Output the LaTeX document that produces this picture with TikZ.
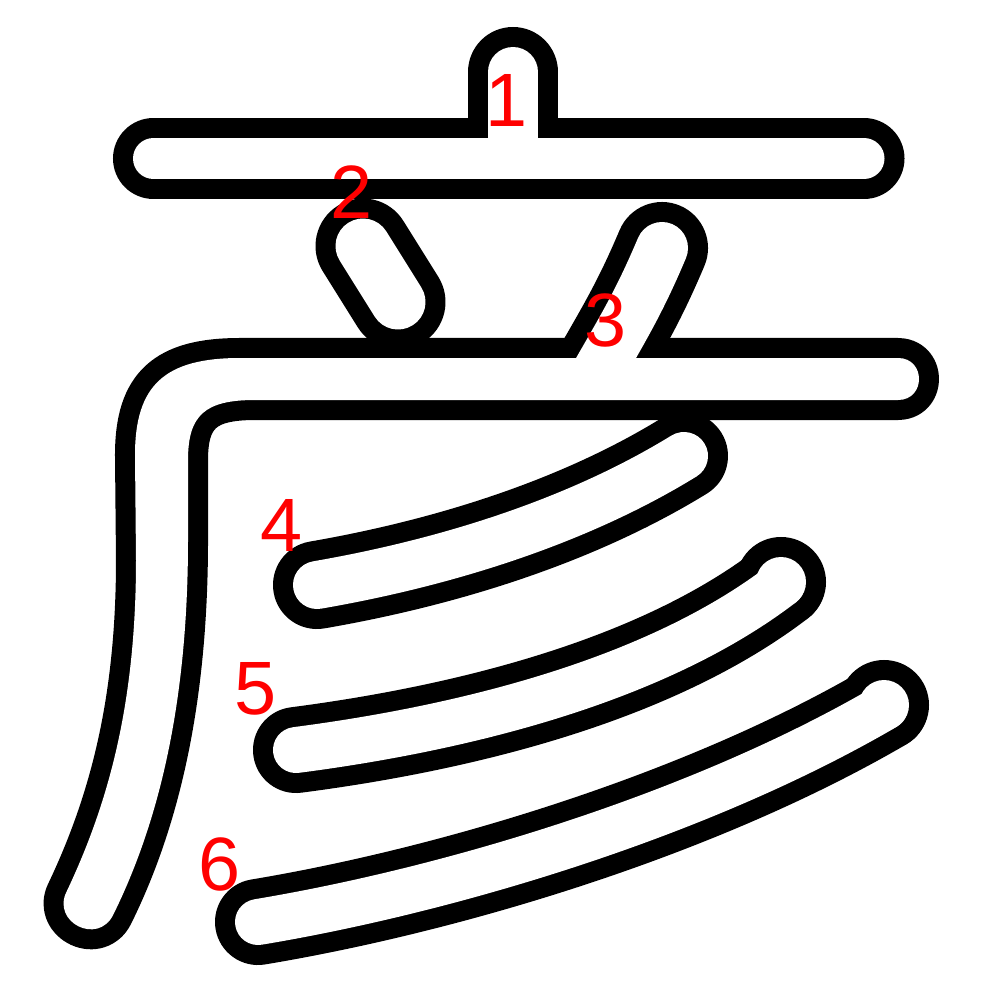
\documentclass[tikz,border=0pt]{standalone}
\usepackage{fontspec}
\setmainfont{Liberation Sans}
\pgfdeclarelayer{inner}
\pgfdeclarelayer{labels}
\pgfsetlayers{main,inner,labels}
% a stroke: black outline below, white body on the upper layer
\newcommand{\kstroke}[2]{%
  \draw[outline, line width=#1*0.01cm+0.4cm] #2;
  \begin{pgfonlayer}{inner}
    \draw[body, line width=#1*0.01cm] #2;
  \end{pgfonlayer}}
% round end of a stroke, wider than its body
\newcommand{\kdot}[2]{%
  \fill[black] #1 circle[radius=#2*0.01cm+0.2cm];
  \begin{pgfonlayer}{inner}
    \fill[white] #1 circle[radius=#2*0.01cm];
  \end{pgfonlayer}}
% a stroke given by its own outline
\newcommand{\kregion}[1]{%
  \filldraw[outline, fill=black, line width=0.4cm] #1;
  \begin{pgfonlayer}{inner}
    \fill[white] #1;
  \end{pgfonlayer}}
\begin{document}
\begin{tikzpicture}[x=0.01cm, y=-0.01cm]
  % Define stroke and number styles
  \tikzstyle{outline} = [draw=black, line cap=round, line join=round]
  \tikzstyle{body} = [draw=white, line cap=round, line join=round]
  \tikzstyle{number} = [text=red, inner sep=0pt,
  font=\fontsize{21.5}{21.5}\selectfont]

  \fill[white] (0,0) rectangle (1000,1000);

  % stroke 1
  \kstroke{50}{(513,72) -- (513,140)}
  \kstroke{41}{(153.5,158.5) -- (864,158.5)}
  % stroke 2
  \kstroke{55}{(363,246) -- (398,302)}
  % stroke 3
  \kstroke{52}{(662,248) .. controls (640,300) and (625,325) .. (598,372)}
  \kregion{(898,358) -- (240,358) .. controls (165,358) and (135,385) .. (135,455)
    -- (136,560) .. controls (136,700) and (110,800) .. (66.7,891.4)
    .. controls (51,922) and (98,946) .. (113.3,914.6)
    .. controls (160,820) and (188,700) .. (188,540)
    -- (188,460) .. controls (188,415) and (205,400) .. (255,400)
    -- (898,400) .. controls (926,400) and (926,358) .. cycle}
  % strokes 4 to 6
  \kstroke{48}{(317,585) .. controls (450,562) and (580,520) .. (684,456)}
  \kstroke{46}{(296,750) .. controls (450,730) and (650,685) .. (782,584)}
  \kdot{(781,582)}{25}
  \kstroke{46}{(258,922) .. controls (450,890) and (700,815) .. (885,707)}
  \kdot{(884,705)}{25}

  \begin{pgfonlayer}{labels}
    \node[number] (n1) at (507,100) {1};
    \node[number] (n2) at (352,192) {2};
    \node[number] (n3) at (606,320) {3};
    \node[number] (n4) at (282,525) {4};
    \node[number] (n5) at (256,689) {5};
    \node[number] (n6) at (220,864) {6};
  \end{pgfonlayer}
\end{tikzpicture}
\end{document}
